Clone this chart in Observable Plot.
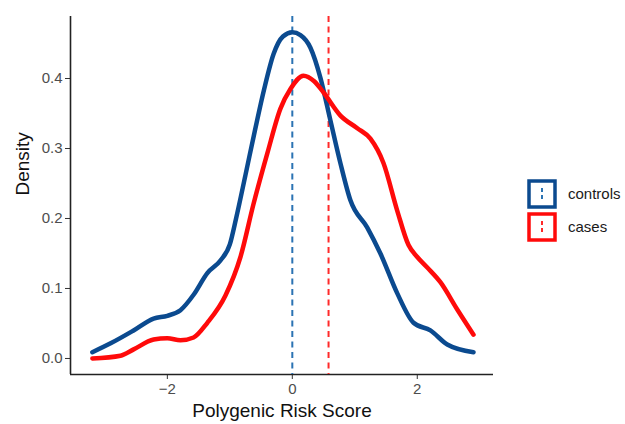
<!DOCTYPE html>
<html>
<head>
<meta charset="utf-8">
<script src="https://cdn.jsdelivr.net/npm/d3@7"></script>
<script src="https://cdn.jsdelivr.net/npm/@observablehq/plot@0.6"></script>
<style>
  html, body { margin: 0; padding: 0; background: #fff; }
  #wrap { position: relative; width: 625px; height: 424px; font-family: "Liberation Sans", Arial, sans-serif; }
  #legend { position: absolute; left: 527px; top: 177px; }
  .item { display: flex; align-items: center; height: 33px; }
  .item span { font-size: 15px; color: #1a1a1a; margin-left: 11px; }
</style>
</head>
<body>
<div id="wrap"><div id="legend"></div></div>
<script>
// Data
const groups = ["controls", "cases"];
const groupColors = ["#0b4a8f", "#ff0a0a"];
const meanLineColors = ["#2b73b3", "#ff2a2a"];
const groupMeans = [0.0, 0.58];

const controlsX = [-3.2, -2.9, -2.54, -2.22, -2.0, -1.79, -1.58, -1.36, -1.15, -1.0, -0.9, -0.75, -0.6, -0.45, -0.3, -0.15, 0.0, 0.13, 0.29, 0.45, 0.61, 0.77, 0.93, 1.2, 1.41, 1.68, 1.94, 2.21, 2.48, 2.9];
const controlsY = [0.009, 0.022, 0.04, 0.057, 0.061, 0.069, 0.091, 0.122, 0.14, 0.163, 0.2, 0.262, 0.325, 0.385, 0.435, 0.46, 0.466, 0.462, 0.444, 0.401, 0.34, 0.279, 0.226, 0.187, 0.15, 0.093, 0.051, 0.04, 0.02, 0.009];

const casesX = [-3.2, -2.75, -2.54, -2.22, -2.0, -1.79, -1.58, -1.36, -1.07, -0.83, -0.62, -0.4, -0.19, -0.03, 0.18, 0.35, 0.5, 0.77, 1.04, 1.25, 1.46, 1.68, 1.86, 2.0, 2.16, 2.37, 2.64, 2.9];
const casesY = [0.0, 0.004, 0.013, 0.027, 0.029, 0.026, 0.03, 0.051, 0.09, 0.145, 0.221, 0.293, 0.357, 0.385, 0.404, 0.396, 0.38, 0.347, 0.329, 0.314, 0.279, 0.211, 0.162, 0.145, 0.13, 0.109, 0.07, 0.034];

const xDomain = [-3.55, 3.22];
const yDomain = [-0.0229, 0.4886];
const xTicks = [-2, 0, 2];
const xTickLabels = ["\u22122", "0", "2"];
const yTicks = [0, 0.1, 0.2, 0.3, 0.4];
const yTickLabels = ["0.0", "0.1", "0.2", "0.3", "0.4"];
const xLabel = "Polygenic Risk Score";
const yLabel = "Density";

const rows = [
  ...controlsX.map((x, i) => ({group: "controls", x, y: controlsY[i]})),
  ...casesX.map((x, i) => ({group: "cases", x, y: casesY[i]}))
];
const means = groups.map((g, i) => ({group: g, x: groupMeans[i]}));

const chart = Plot.plot({
  width: 625,
  height: 424,
  marginLeft: 70,
  marginRight: 132,
  marginTop: 16,
  marginBottom: 50,
  style: {fontFamily: "'Liberation Sans', Arial, sans-serif", background: "white", overflow: "visible"},
  x: {domain: xDomain},
  y: {domain: yDomain},
  color: {domain: groups, range: groupColors},
  marks: [
    Plot.axisX({ticks: xTicks, tickFormat: (d) => xTickLabels[xTicks.indexOf(d)], tickSize: 5, tickPadding: 4, fontSize: 15, color: "#4d4d4d", stroke: "#333", label: null}),
    Plot.axisY({ticks: yTicks, tickFormat: (d) => yTickLabels[yTicks.indexOf(d)], tickSize: 5, tickPadding: 3, fontSize: 15, color: "#4d4d4d", stroke: "#333", label: null}),
    Plot.ruleY([yDomain[0]], {stroke: "#222", strokeWidth: 1.6}),
    Plot.ruleX([xDomain[0]], {stroke: "#222", strokeWidth: 1.6}),
    Plot.ruleX(means, {x: "x", stroke: (d) => meanLineColors[groups.indexOf(d.group)], strokeWidth: 2, strokeDasharray: "6,4.5"}),
    Plot.line(rows, {x: "x", y: "y", z: "group", stroke: "group", strokeWidth: 4.5, curve: "monotone-x"}),
    Plot.text([xLabel], {frameAnchor: "bottom", dy: 36, fontSize: 19, fill: "#111", lineAnchor: "middle"}),
    Plot.text([yLabel], {frameAnchor: "left", dx: -48, rotate: -90, fontSize: 19, fill: "#111", lineAnchor: "middle"})
  ]
});
document.getElementById("wrap").prepend(chart);

// Legend
const legend = document.getElementById("legend");
groups.forEach((g, i) => {
  const item = document.createElement("div");
  item.className = "item";
  item.innerHTML = `<svg width="30" height="30" style="display:block">
      <rect x="2" y="2" width="26" height="26" fill="white" stroke="${groupColors[i]}" stroke-width="3.5"></rect>
      <line x1="15" y1="9" x2="15" y2="21" stroke="${meanLineColors[i]}" stroke-width="2" stroke-dasharray="4,3"></line>
    </svg><span>${g}</span>`;
  legend.appendChild(item);
});
</script>
</body>
</html>
